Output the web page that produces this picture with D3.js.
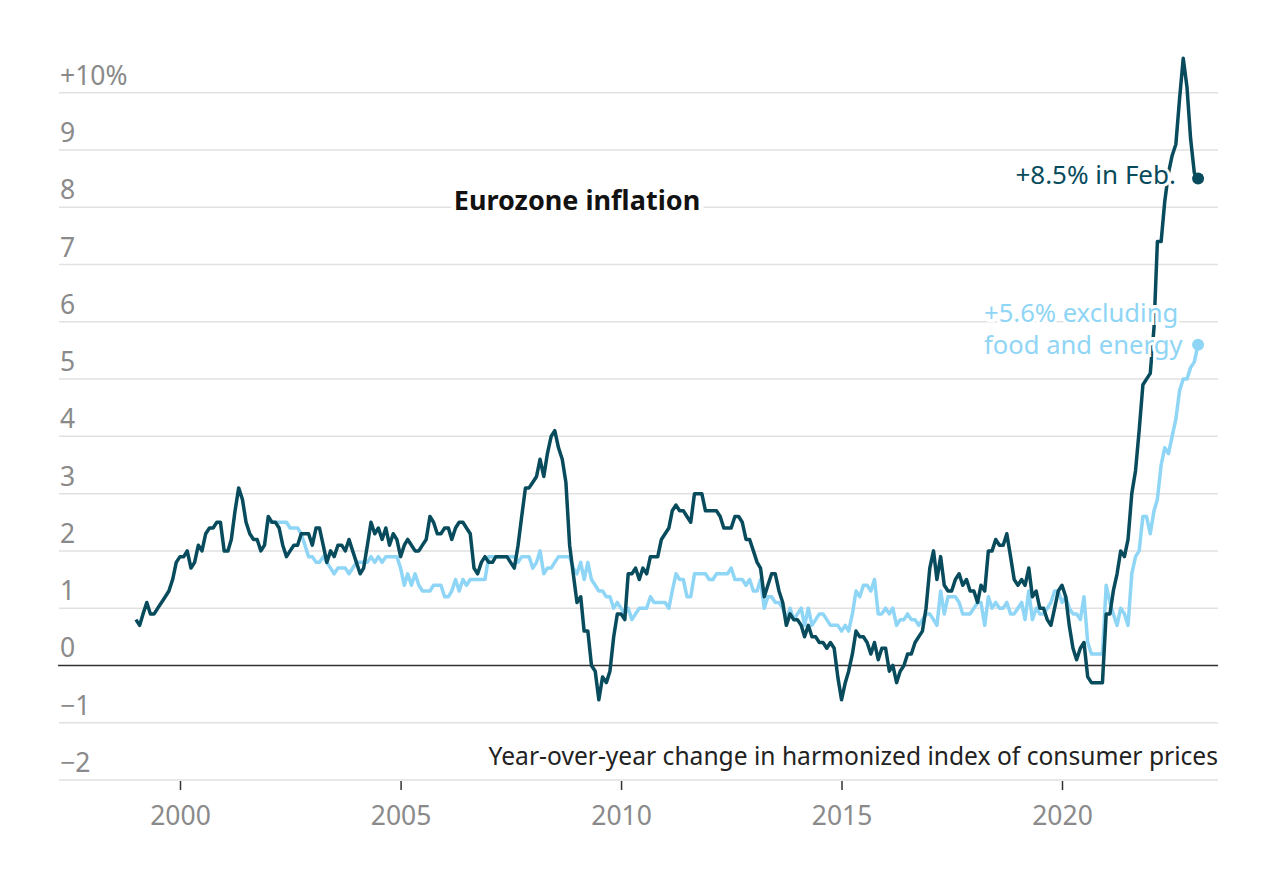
<!DOCTYPE html>
<html>
<head>
<meta charset="utf-8">
<script src="https://cdn.jsdelivr.net/npm/d3@7"></script>
<style>
  body { margin: 0; background: #fff; }
  text { font-family: "Noto Sans", Roboto, sans-serif; }
</style>
</head>
<body>
<script>
// Monthly year-over-year change, headline HICP, from Jan 1999
var headlineStart = new Date(1999, 0, 1);
var headline = [
  0.8, 0.7, 0.9, 1.1, 0.9, 0.9, 1.0, 1.1, 1.2, 1.3, 1.5, 1.8,
  1.9, 1.9, 2.0, 1.7, 1.8, 2.1, 2.0, 2.3, 2.4, 2.4, 2.5, 2.5,
  2.0, 2.0, 2.2, 2.7, 3.1, 2.9, 2.5, 2.3, 2.2, 2.2, 2.0, 2.1,
  2.6, 2.5, 2.5, 2.4, 2.1, 1.9, 2.0, 2.1, 2.1, 2.3, 2.3, 2.3,
  2.1, 2.4, 2.4, 2.1, 1.8, 2.0, 1.9, 2.1, 2.1, 2.0, 2.2, 2.0,
  1.8, 1.6, 1.7, 2.1, 2.5, 2.3, 2.4, 2.2, 2.4, 2.1, 2.3, 2.2,
  1.9, 2.1, 2.2, 2.1, 2.0, 2.0, 2.1, 2.2, 2.6, 2.5, 2.3, 2.3,
  2.4, 2.4, 2.2, 2.4, 2.5, 2.5, 2.4, 2.3, 1.7, 1.6, 1.8, 1.9,
  1.8, 1.8, 1.9, 1.9, 1.9, 1.9, 1.8, 1.7, 2.1, 2.6, 3.1, 3.1,
  3.2, 3.3, 3.6, 3.3, 3.7, 4.0, 4.1, 3.8, 3.6, 3.2, 2.1, 1.6,
  1.1, 1.2, 0.6, 0.6, 0.0, -0.1, -0.6, -0.2, -0.3, -0.1, 0.5, 0.9,
  0.9, 0.8, 1.6, 1.6, 1.7, 1.5, 1.7, 1.6, 1.9, 1.9, 1.9, 2.2,
  2.3, 2.4, 2.7, 2.8, 2.7, 2.7, 2.6, 2.5, 3.0, 3.0, 3.0, 2.7,
  2.7, 2.7, 2.7, 2.6, 2.4, 2.4, 2.4, 2.6, 2.6, 2.5, 2.2, 2.2,
  2.0, 1.8, 1.7, 1.2, 1.4, 1.6, 1.6, 1.3, 1.1, 0.7, 0.9, 0.8,
  0.8, 0.7, 0.5, 0.7, 0.5, 0.5, 0.4, 0.4, 0.3, 0.4, 0.3, -0.2,
  -0.6, -0.3, -0.1, 0.2, 0.6, 0.5, 0.5, 0.4, 0.2, 0.4, 0.1, 0.3,
  0.3, -0.1, 0.0, -0.3, -0.1, 0.0, 0.2, 0.2, 0.4, 0.5, 0.6, 1.0,
  1.7, 2.0, 1.5, 1.9, 1.4, 1.3, 1.3, 1.5, 1.6, 1.4, 1.5, 1.3,
  1.3, 1.1, 1.4, 1.3, 2.0, 2.0, 2.2, 2.1, 2.1, 2.3, 1.9, 1.5,
  1.4, 1.5, 1.4, 1.7, 1.2, 1.3, 1.0, 1.0, 0.8, 0.7, 1.0, 1.3,
  1.4, 1.2, 0.7, 0.3, 0.1, 0.3, 0.4, -0.2, -0.3, -0.3, -0.3, -0.3,
  0.9, 0.9, 1.3, 1.6, 2.0, 1.9, 2.2, 3.0, 3.4, 4.1, 4.9, 5.0,
  5.1, 5.9, 7.4, 7.4, 8.1, 8.6, 8.9, 9.1, 9.9, 10.6, 10.1, 9.2,
  8.6, 8.5
];

// Excluding food and energy, from Jan 2002
var coreStart = new Date(2002, 0, 1);
var core = [
  2.5, 2.5, 2.5, 2.5, 2.5, 2.5, 2.4, 2.4, 2.4, 2.3, 2.1, 1.9,
  1.9, 1.8, 1.8, 1.9, 1.8, 1.7, 1.6, 1.7, 1.7, 1.7, 1.6, 1.7,
  1.8, 1.8, 1.8, 1.8, 1.9, 1.8, 1.9, 1.8, 1.9, 1.9, 1.9, 1.9,
  1.7, 1.4, 1.6, 1.4, 1.6, 1.4, 1.3, 1.3, 1.3, 1.4, 1.4, 1.4,
  1.2, 1.2, 1.3, 1.5, 1.3, 1.5, 1.4, 1.5, 1.5, 1.5, 1.5, 1.5,
  1.9, 1.9, 1.9, 1.9, 1.9, 1.9, 1.9, 1.9, 1.8, 1.9, 1.9, 1.9,
  1.7, 1.8, 2.0, 1.6, 1.7, 1.7, 1.8, 1.9, 1.9, 1.9, 1.9, 1.7,
  1.6, 1.8, 1.5, 1.8, 1.5, 1.4, 1.3, 1.3, 1.2, 1.2, 1.0, 1.1,
  1.0, 0.9, 1.0, 0.8, 0.9, 1.0, 1.0, 1.0, 1.2, 1.1, 1.1, 1.1,
  1.1, 1.0, 1.3, 1.6, 1.5, 1.5, 1.2, 1.2, 1.6, 1.6, 1.6, 1.6,
  1.5, 1.5, 1.6, 1.6, 1.6, 1.6, 1.7, 1.5, 1.5, 1.5, 1.4, 1.5,
  1.3, 1.3, 1.5, 1.0, 1.2, 1.2, 1.1, 1.1, 1.0, 0.8, 1.0, 0.8,
  0.9, 1.0, 0.7, 1.0, 0.7, 0.8, 0.9, 0.9, 0.8, 0.7, 0.7, 0.7,
  0.6, 0.7, 0.6, 0.9, 1.3, 1.2, 1.4, 1.4, 1.3, 1.5, 0.9, 0.9,
  1.0, 0.9, 1.0, 0.7, 0.8, 0.8, 0.9, 0.8, 0.8, 0.7, 0.8, 0.9,
  0.9, 0.8, 0.7, 1.3, 0.9, 1.2, 1.2, 1.2, 1.1, 0.9, 0.9, 0.9,
  1.0, 1.1, 1.1, 0.7, 1.2, 1.0, 1.1, 1.0, 1.0, 1.1, 0.9, 0.9,
  1.0, 1.1, 0.8, 1.3, 0.8, 1.0, 0.9, 0.9, 1.0, 1.1, 1.3, 1.3,
  1.1, 1.2, 1.0, 0.9, 0.9, 0.8, 1.2, 0.4, 0.2, 0.2, 0.2, 0.2,
  1.4, 1.1, 0.9, 0.7, 1.0, 0.9, 0.7, 1.6, 1.9, 2.0, 2.6, 2.6,
  2.3, 2.7, 2.9, 3.5, 3.8, 3.7, 4.0, 4.3, 4.8, 5.0, 5.0, 5.2,
  5.3, 5.6
];

var yTicks = [-2, -1, 0, 1, 2, 3, 4, 5, 6, 7, 8, 9, 10];
var yTickLabels = ["\u22122", "\u22121", "0", "1", "2", "3", "4", "5", "6", "7", "8", "9", "+10%"];
var xTicks = [2000, 2005, 2010, 2015, 2020];

var title = "Eurozone inflation";
var subtitle = "Year-over-year change in harmonized index of consumer prices";
var headlineNote = ["+8.5% in Feb."];
var coreNote = ["+5.6% excluding", "food and energy"];

// Dimensions
var width = 1280,
    height = 891,
    left = 59,
    right = 1218;

var darkColor = "#074b5c",
    lightColor = "#8fd5f5";

var x = d3.scaleTime()
    .domain([new Date(2000, 0, 1), new Date(2020, 0, 1)])
    .range([180, 1062]);

var y = d3.scaleLinear()
    .domain([-2, 10])
    .range([780, 92.7]);

// turn a value list into dated points
function monthly(start, values) {
  return values.map(function(v, i) {
    return { date: d3.timeMonth.offset(start, i), value: v };
  });
}

var headlineData = monthly(headlineStart, headline);
var coreData = monthly(coreStart, core);

var svg = d3.select("body")
    .append("svg")
    .attr("width", width)
    .attr("height", height);

// Gridlines
svg.append("g")
    .selectAll("line")
    .data(yTicks.filter(function(d) { return d !== 0; }))
    .enter()
    .append("line")
    .attr("x1", left)
    .attr("x2", right)
    .attr("y1", function(d) { return y(d); })
    .attr("y2", function(d) { return y(d); })
    .attr("stroke", "#e1e1e1")
    .attr("stroke-width", 1.5);

// Y labels sit above their gridline
svg.append("g")
    .selectAll("text")
    .data(yTicks)
    .enter()
    .append("text")
    .attr("x", left + 1)
    .attr("y", function(d) { return y(d) - 8; })
    .attr("font-size", "26.5px")
    .attr("fill", "#8a8a8a")
    .text(function(d, i) { return yTickLabels[i]; });

// X axis ticks and labels
var xAxis = d3.axisBottom(x)
    .tickValues(xTicks.map(function(d) { return new Date(d, 0, 1); }))
    .tickFormat(d3.timeFormat("%Y"))
    .tickSize(9)
    .tickPadding(16);

var gx = svg.append("g")
    .attr("transform", "translate(0," + 781 + ")")
    .call(xAxis);

gx.select(".domain").remove();
gx.selectAll(".tick line")
    .attr("stroke", "#333")
    .attr("stroke-width", 1.5);
gx.selectAll(".tick text")
    .attr("font-family", "\"Noto Sans\", Roboto, sans-serif")
    .attr("font-size", "26.5px")
    .attr("fill", "#8a8a8a");

// Title and subtitle
svg.append("text")
    .attr("x", 577)
    .attr("y", 210)
    .attr("text-anchor", "middle")
    .attr("font-size", "27px")
    .attr("font-weight", "bold")
    .attr("fill", "#121212")
    .attr("stroke", "#fff")
    .attr("stroke-width", 10)
    .attr("paint-order", "stroke")
    .text(title);

svg.append("text")
    .attr("x", right)
    .attr("y", 765)
    .attr("text-anchor", "end")
    .attr("font-size", "24.6px")
    .attr("fill", "#222")
    .text(subtitle);

var line = d3.line()
    .x(function(d) { return x(d.date); })
    .y(function(d) { return y(d.value); });

// Core first so the headline sits on top
svg.append("path")
    .datum(coreData)
    .attr("d", line)
    .attr("fill", "none")
    .attr("stroke", lightColor)
    .attr("stroke-width", 3.5)
    .attr("stroke-linejoin", "round");

// Zero line
svg.append("line")
    .attr("x1", left - 1)
    .attr("x2", right)
    .attr("y1", y(0))
    .attr("y2", y(0))
    .attr("stroke", "#333")
    .attr("stroke-width", 1.5);

svg.append("path")
    .datum(headlineData)
    .attr("d", line)
    .attr("fill", "none")
    .attr("stroke", darkColor)
    .attr("stroke-width", 3.5)
    .attr("stroke-linejoin", "round");

// End dots
var lastHeadline = headlineData[headlineData.length - 1],
    lastCore = coreData[coreData.length - 1];

svg.append("circle")
    .attr("cx", x(lastCore.date))
    .attr("cy", y(lastCore.value))
    .attr("r", 6)
    .attr("fill", lightColor);

svg.append("circle")
    .attr("cx", x(lastHeadline.date))
    .attr("cy", y(lastHeadline.value))
    .attr("r", 6)
    .attr("fill", darkColor);

// Annotations
svg.append("text")
    .attr("x", 1176)
    .attr("y", 184)
    .attr("text-anchor", "end")
    .attr("font-size", "26px")
    .attr("fill", darkColor)
    .attr("stroke", "#fff")
    .attr("stroke-width", 6)
    .attr("paint-order", "stroke")
    .text(headlineNote[0]);

svg.append("g")
    .selectAll("text")
    .data(coreNote)
    .enter()
    .append("text")
    .attr("x", 984)
    .attr("y", function(d, i) { return 322 + i * 32; })
    .attr("font-size", "25.6px")
    .attr("fill", lightColor)
    .attr("stroke", "#fff")
    .attr("stroke-width", 6)
    .attr("paint-order", "stroke")
    .text(function(d) { return d; });
</script>
</body>
</html>
